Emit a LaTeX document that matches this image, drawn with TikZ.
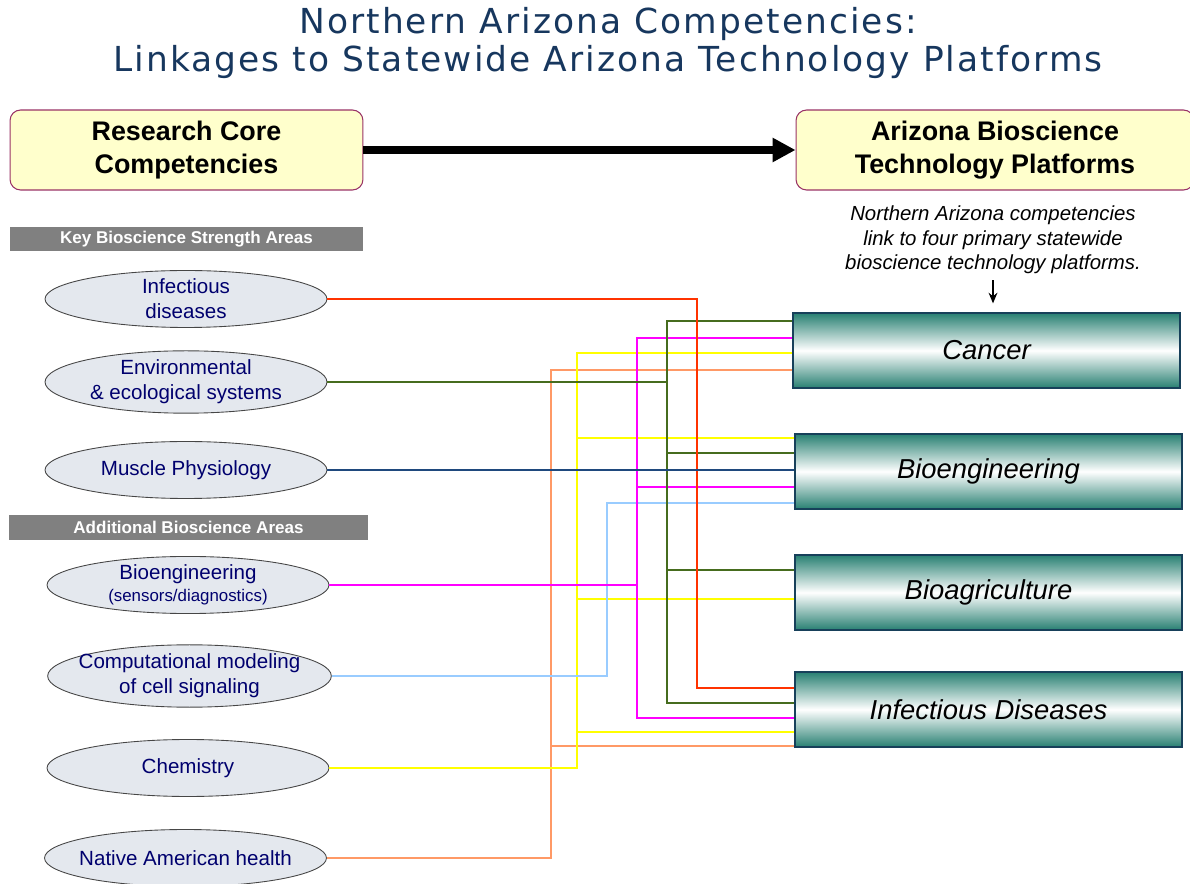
\documentclass[tikz,border=0pt]{standalone}
\usepackage{fontspec}
\setmainfont{Liberation Sans}
\newfontfamily\titlefont{DejaVu Sans}[LetterSpace=6]
\usetikzlibrary{shapes.geometric,arrows.meta}

\definecolor{titleblue}{RGB}{23,55,94}
\definecolor{coreyellow}{RGB}{255,255,204}
\definecolor{coreborder}{RGB}{153,51,102}
\definecolor{bargray}{RGB}{128,128,128}
\definecolor{areafill}{RGB}{228,232,238}
\definecolor{areaborder}{RGB}{70,70,70}
\definecolor{areatext}{RGB}{0,0,110}
\definecolor{platteal}{RGB}{40,128,114}
\definecolor{platborder}{RGB}{23,64,90}
\definecolor{linkred}{RGB}{255,51,0}
\definecolor{linkgreen}{RGB}{70,108,30}
\definecolor{linkmagenta}{RGB}{255,0,255}
\definecolor{linkyellow}{RGB}{255,255,0}
\definecolor{linkorange}{RGB}{255,153,102}
\definecolor{linkblue}{RGB}{153,204,255}
\definecolor{linknavy}{RGB}{31,73,125}

\begin{document}
\begin{tikzpicture}[x=0.02cm, y=-0.02cm,
    corebox/.style={draw=coreborder, fill=coreyellow, rounded corners=6pt,
      line width=0.6pt, minimum height=1.6cm, align=center,
      font=\fontsize{15.3}{19}\selectfont\bfseries},
    areabar/.style={fill=bargray, text=white, minimum height=0.49cm, inner sep=0pt,
      font=\fontsize{9.7}{11}\selectfont\bfseries},
    area/.style={ellipse, draw=areaborder, fill=areafill, line width=0.5pt,
      minimum width=5.64cm, minimum height=1.14cm, inner xsep=-6pt, inner ysep=0pt,
      align=center, text=areatext, font=\fontsize{11.7}{14.2}\selectfont},
    platform/.style={draw=platborder, line width=1pt, top color=platteal,
      bottom color=platteal, middle color=white, minimum width=7.74cm,
      minimum height=1.5cm, font=\fontsize{15.6}{18}\selectfont\itshape},
    link/.style={line width=1.1pt}]
  \useasboundingbox (0,0) rectangle (1190,884);

  \node (title) at (608,43)[align=center, text=titleblue,
    font=\titlefont\fontsize{19.6}{22}\selectfont]
    {Northern Arizona Competencies:\\Linkages to Statewide Arizona Technology Platforms};

  % headers
  \node (core) at (186.5,150)[corebox, minimum width=7.06cm]{Research Core\\Competencies};
  \node (tech) at (995,150)[corebox, minimum width=7.96cm]{Arizona Bioscience\\Technology Platforms};
  \draw[line width=4.5pt, -{Triangle[length=13pt,width=13pt]}] (core) -- (tech);

  \node (keybar) at (186.5,239)[areabar, minimum width=7.06cm]{Key Bioscience Strength Areas};
  \node (addbar) at (188.5,527.5)[areabar, minimum width=7.18cm]{Additional Bioscience Areas};

  % competencies
  \node (inf) at (186,299)[area]{Infectious\\diseases};
  \node (env) at (186,382)[area]{Environmental\\\& ecological systems};
  \node (mus) at (186,470)[area]{Muscle Physiology};
  \node (beng) at (188,585)[area, font=\fontsize{11.7}{12.5}\selectfont]
    {Bioengineering\\{\fontsize{9.6}{10}\selectfont(sensors/diagnostics)}};
  \node (comp) at (189.5,676)[area]{Computational modeling\\of cell signaling};
  \node (chem) at (188,768)[area]{Chemistry};
  \node (nat) at (185.5,858)[area]{Native American health};

  % platforms
  \node (note) at (993,240)[align=center, font=\fontsize{11.6}{13.9}\selectfont\itshape]
    {Northern Arizona competencies\\link to four primary statewide\\bioscience technology platforms.};
  \node (pcan) at (986.5,350.5)[platform]{Cancer};
  \node (pbeng) at (988.5,471.5)[platform]{Bioengineering};
  \node (pagr) at (988.5,592.5)[platform]{Bioagriculture};
  \node (pinf) at (988.5,709.5)[platform]{Infectious Diseases};
  \draw[line width=1pt, -{Stealth[length=6pt,width=5pt]}, shorten >=5pt]
    (note.south) -- (note.south |- pcan.north);

  \begin{scope}[link]
    \draw[linkorange] (pcan.west |- 0,370) -| (nat.east -| 551,0) -- (nat.east);
    \draw[linkorange] (551,746) -- (pinf.west |- 0,746);

    \draw[linkyellow] (pcan.west |- 0,353) -| (chem.east -| 577,0) -- (chem.east);
    \draw[linkyellow] (577,438) -- (pbeng.west |- 0,438);
    \draw[linkyellow] (577,599) -- (pagr.west |- 0,599);
    \draw[linkyellow] (577,732) -- (pinf.west |- 0,732);

    \draw[linkblue] (comp.east) -| (607,503) -- (pbeng.west |- 0,503);

    \draw[linkmagenta] (beng.east) -- (beng.east -| 637,0);
    \draw[linkmagenta] (pcan.west |- 0,338) -| (637,718) -- (pinf.west |- 0,718);
    \draw[linkmagenta] (637,487) -- (pbeng.west |- 0,487);

    \draw[linkgreen] (env.east) -- (env.east -| 667,0);
    \draw[linkgreen] (pcan.west |- 0,321) -| (667,703) -- (pinf.west |- 0,703);
    \draw[linkgreen] (667,453) -- (pbeng.west |- 0,453);
    \draw[linkgreen] (667,570) -- (pagr.west |- 0,570);

    \draw[linkred] (inf.east) -| (697,688) -- (pinf.west |- 0,688);

    \draw[linknavy] (mus.east) -- (pbeng.west |- mus.east);
  \end{scope}
\end{tikzpicture}
\end{document}
